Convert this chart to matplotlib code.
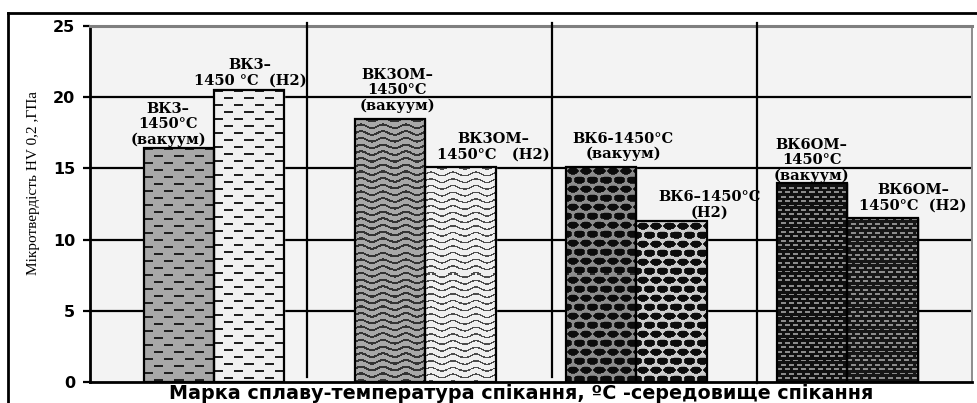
import numpy as np
import matplotlib.pyplot as plt
from matplotlib.lines import Line2D

# Microhardness of hard alloys, sintered at 1450 °C in vacuum and in hydrogen
groups = ["ВК3", "ВК3ОМ", "ВК6", "ВК6ОМ"]
hv_vacuum = [16.4, 18.5, 15.1, 14.0]
hv_h2 = [20.5, 15.1, 11.3, 11.5]

labels_vacuum = ["ВК3–\n1450°С\n(вакуум)", "ВК3ОМ–\n1450°С\n(вакуум)",
                 "ВК6-1450°С\n(вакуум)", "ВК6ОМ–\n1450°С\n(вакуум)"]
labels_h2 = ["ВК3–\n1450 °С  (Н2)", "ВК3ОМ–\n1450°С   (Н2)",
             "ВК6–1450°С\n(Н2)", "ВК6ОМ–\n1450°С  (Н2)"]

y_ticks = [0, 5, 10, 15, 20, 25]

# label placement: x shift from group centre, gap above bar top
lab_dx_vac = [-0.218, -0.133, -0.062, -0.17]
lab_dx_h2 = [0.17, 0.322, 0.346, 0.31]
lab_dy_vac = [0.1, 0.4, 0.4, 0.0]
lab_dy_h2 = [0.2, 0.4, 0.1, 0.4]

# group separators (in category units)
sep_x = [0.44, 1.6, 2.57]
sep_bottom = [0.35, 0.35, -0.1]

# fill patterns: (kind, background grey)
fills_vac = [("dash", 0.66), ("wave", 0.66), ("cells", 0.55), ("fine", 0.07)]
fills_h2 = [("dash", 0.94), ("wave", 0.94), ("cells", 0.8), ("fine", 0.09)]


def texture(kind, base, h, w):
    yy, xx = np.mgrid[0:h, 0:w].astype(float)
    img = np.full((h, w), base)
    if kind == "dash":
        row = yy // 7
        phase = (xx + (row % 2) * 10) % 20
        img[((yy % 7) < 2) & (phase < 9)] = 0.13
    elif kind == "wave":
        off = (yy + 1.8 * np.sin(2 * np.pi * xx / 22)) % 6.7
        if base < 0.8:
            img[off < 2.2] = 0.2
        else:
            img[off < 1.5] = 0.3
    elif kind == "cells":
        row = yy // 9
        sx = (xx + (row % 2) * 6.5) % 13 - 6.5
        sy = yy % 9 - 4.5
        d = (sx / 4.9) ** 2 + (sy / 3.3) ** 2
        img[d < 1] = 0.05
        img[(d > 1) & (d < 1.3)] = 0.15
        img[(np.abs(sx) < 2.2) & (sy < -2.6) & (sy > -3.6)] = base * 0.8
    elif kind == "fine":
        row = np.floor(yy / 4.4)
        sx = (xx + (row % 2) * 4) % 8
        sy = yy % 4.4
        img[(sx < 4.5) & (sy < 1.8)] = 0.55
    return img


fig = plt.figure(figsize=(9.77, 4.03), dpi=100)
ax = fig.add_axes([0.0921, 0.0521, 0.9028, 0.8834])
ax.set_facecolor("#f3f3f3")

x = np.arange(len(groups))
w = 0.333
ax.set_xlim(-0.588, 3.59)
ax.set_ylim(0, 25)

# horizontal grid behind bars
for t in y_ticks[1:-1]:
    ax.axhline(t, color="black", lw=1.6, zorder=1)

bars_v = ax.bar(x - w / 2, hv_vacuum, w, facecolor="none",
                edgecolor="black", lw=1.6, zorder=4)
bars_h = ax.bar(x + w / 2, hv_h2, w, facecolor="none",
                edgecolor="black", lw=1.6, zorder=4)

# textures clipped to the bar rectangles
fig.canvas.draw()
for bars, fills in ((bars_v, fills_vac), (bars_h, fills_h2)):
    for b, (kind, base) in zip(bars, fills):
        x0, y0 = b.get_x(), b.get_y()
        x1, y1 = x0 + b.get_width(), y0 + b.get_height()
        (px0, py0), (px1, py1) = ax.transData.transform([(x0, y0), (x1, y1)])
        img = texture(kind, base, int(round(py1 - py0)), int(round(px1 - px0)))
        im = ax.imshow(img, cmap="gray", vmin=0, vmax=1, extent=(x0, x1, y0, y1),
                       aspect="auto", interpolation="nearest", zorder=3)
        im.set_clip_path(b)
        ax.add_patch(plt.Rectangle((x0, y0), x1 - x0, y1 - y0, color=str(base), zorder=2))

ax.set_xlim(-0.588, 3.59)
ax.set_ylim(0, 25)

# separators between alloy groups
for sx, sb in zip(sep_x, sep_bottom):
    ax.plot([sx, sx], [sb, 25.2], color="black", lw=1.6, zorder=5, clip_on=False)

# bar captions
lab_font = dict(family="DejaVu Serif", fontweight="bold", fontsize=10.5,
                ha="center", va="bottom", multialignment="center",
                linespacing=1.12, zorder=6)
for i in range(len(groups)):
    ax.text(x[i] + lab_dx_vac[i], hv_vacuum[i] + lab_dy_vac[i], labels_vacuum[i], **lab_font)
    ax.text(x[i] + lab_dx_h2[i], hv_h2[i] + lab_dy_h2[i], labels_h2[i], **lab_font)

ax.set_xticks([])
ax.set_yticks(y_ticks)
ax.tick_params(axis="y", length=5, width=1.6, pad=5.5, labelsize=11.5)
for t in ax.get_yticklabels():
    t.set_fontweight("bold")
    t.set_family("DejaVu Sans")

ax.spines["left"].set_linewidth(2)
ax.spines["bottom"].set_linewidth(2)
ax.spines["top"].set_color("#7f7f7f")
ax.spines["top"].set_linewidth(2.2)
ax.spines["right"].set_color("#8c8c8c")
ax.spines["right"].set_linewidth(1.4)

ax.set_ylabel("Мікротвердість HV 0,2 ,ГПа", family="Liberation Serif", fontsize=11)
ax.yaxis.set_label_coords(-0.057, 0.56)
ax.set_xlabel("Марка сплаву-температура спікання, ºС -середовище спікання",
              family="DejaVu Sans", fontweight="bold", fontsize=13.8)
ax.xaxis.set_label_coords(0.489, -0.006)

# outer frame
fx0, fy1 = 8 / 977, 1 - 13 / 403
fig.add_artist(Line2D([fx0, 1], [fy1, fy1], color="black", lw=2, transform=fig.transFigure))
fig.add_artist(Line2D([fx0, fx0], [0, fy1], color="black", lw=2, transform=fig.transFigure))

fig.savefig("out.png", dpi=100)
